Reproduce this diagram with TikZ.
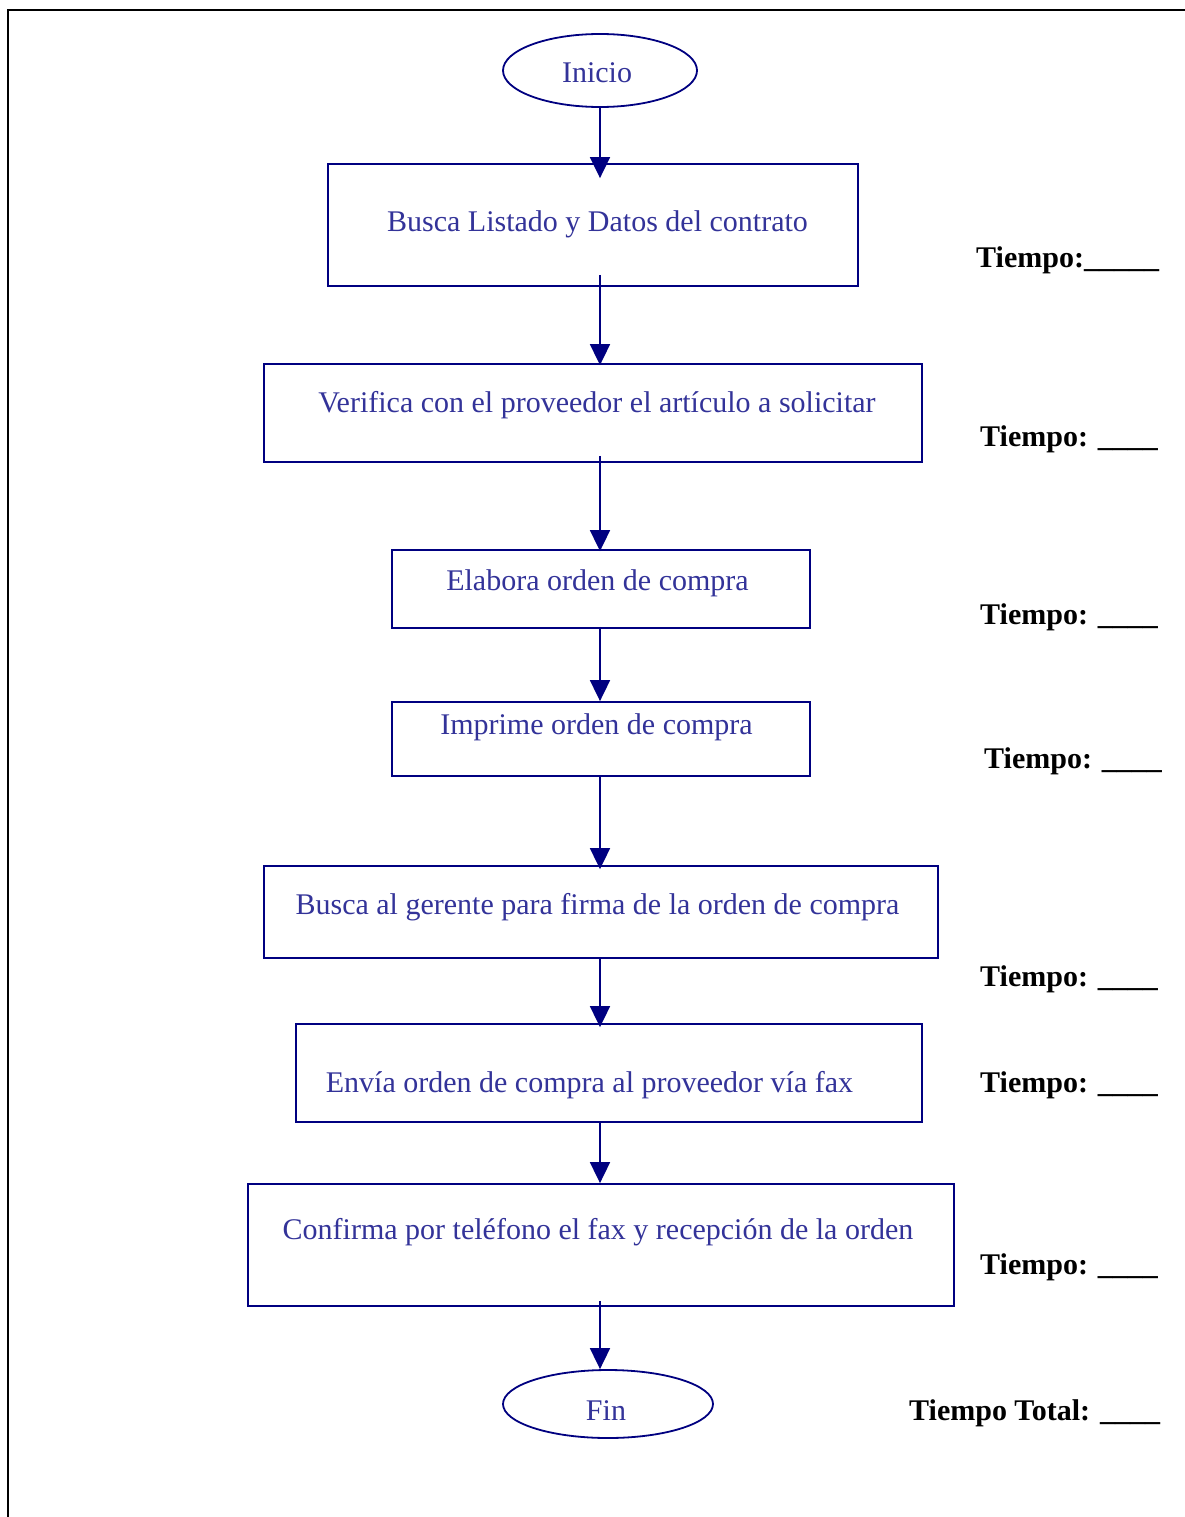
\documentclass[tikz,border=0pt]{standalone}
\usepackage{fontspec}
\setmainfont{Liberation Serif}
\usetikzlibrary{shapes.geometric,arrows.meta}
\definecolor{flowline}{RGB}{0,0,128}
\definecolor{flowtext}{RGB}{51,51,153}
\tikzset{
  box/.style={draw=flowline, line width=1.8pt, rectangle, inner sep=0pt},
  term/.style={draw=flowline, line width=1.8pt, ellipse, inner sep=0pt},
  steptext/.style={text=flowtext, anchor=base, inner sep=0pt, font=\fontsize{30}{36}\selectfont},
  timetext/.style={text=black, anchor=base west, inner sep=0pt, font=\fontsize{30}{36}\selectfont\bfseries},
  arr/.style={draw=flowline, line width=1.8pt, -{Triangle[length=21pt,width=20pt]}},
}
\begin{document}
\begin{tikzpicture}[x=1pt,y=-1pt]
\useasboundingbox (0,0) rectangle (1185,1517);
\fill[white] (0,0) rectangle (1185,1517);
\coordinate (fa) at (8,1517);
\coordinate (fb) at (8,10);
\coordinate (fc) at (1185,10);
\draw[line width=2.2pt, black] (fa) -- (fb) -- (fc);
\coordinate (spine) at (600,0);

% shapes
\node[term, minimum width=194pt, minimum height=73pt] (ini) at (600,70.5) {};
\node[box, minimum width=530pt, minimum height=122pt] (b1) at (593,225) {};
\node[box, minimum width=658pt, minimum height=98pt] (b2) at (593,413) {};
\node[box, minimum width=418pt, minimum height=78pt] (b3) at (601,589) {};
\node[box, minimum width=418pt, minimum height=74pt] (b4) at (601,739) {};
\node[box, minimum width=674pt, minimum height=92pt] (b5) at (601,912) {};
\node[box, minimum width=626pt, minimum height=98pt] (b6) at (609,1073) {};
\node[box, minimum width=706pt, minimum height=122pt] (b7) at (601,1245) {};
\node[term, minimum width=210pt, minimum height=68pt] (fin) at (608,1404) {};

% texts
\node[steptext] (tini) at (597,83) {Inicio};
\node[steptext] (t1) at (597.5,231) {Busca Listado y Datos del contrato};
\node[steptext] (t2) at (597,412) {Verifica con el proveedor el artículo a solicitar};
\node[steptext] (t3) at (597.5,590) {Elabora orden de compra};
\node[steptext] (t4) at (596.5,734) {Imprime orden de compra};
\node[steptext] (t5) at (597.5,914) {Busca al gerente para firma de la orden de compra};
\node[steptext] (t6) at (589.5,1092) {Envía orden de compra al proveedor vía fax};
\node[steptext] (t7) at (598,1239) {Confirma por teléfono el fax y recepción de la orden};
\node[steptext] (tfin) at (606,1420) {Fin};

% times
\node[timetext] (m1) at (976,267) {Tiempo:\_\_\_\_\_};
\node[timetext] (m2) at (980,446) {Tiempo: \_\_\_\_};
\node[timetext] (m3) at (980,624) {Tiempo: \_\_\_\_};
\node[timetext] (m4) at (984,768) {Tiempo: \_\_\_\_};
\node[timetext] (m5) at (980,986) {Tiempo: \_\_\_\_};
\node[timetext] (m6) at (980,1092) {Tiempo: \_\_\_\_};
\node[timetext] (m7) at (980,1274) {Tiempo: \_\_\_\_};
\node[timetext] (mt) at (909,1420) {Tiempo Total: \_\_\_\_};

% connectors
\draw[arr, shorten >=-15pt] (ini.south -| spine) -- (b1.north -| spine);
\draw[arr, shorten <=-12pt, shorten >=-2pt] (b1.south -| spine) -- (b2.north -| spine);
\draw[arr, shorten <=-7pt, shorten >=-2pt] (b2.south -| spine) -- (b3.north -| spine);
\draw[arr, shorten <=-2pt] (b3.south -| spine) -- (b4.north -| spine);
\draw[arr, shorten >=-4pt] (b4.south -| spine) -- (b5.north -| spine);
\draw[arr, shorten >=-4pt] (b5.south -| spine) -- (b6.north -| spine);
\draw[arr] (b6.south -| spine) -- (b7.north -| spine);
\draw[arr, shorten <=-6pt] (b7.south -| spine) -- (fin.north -| spine);
\end{tikzpicture}
\end{document}
